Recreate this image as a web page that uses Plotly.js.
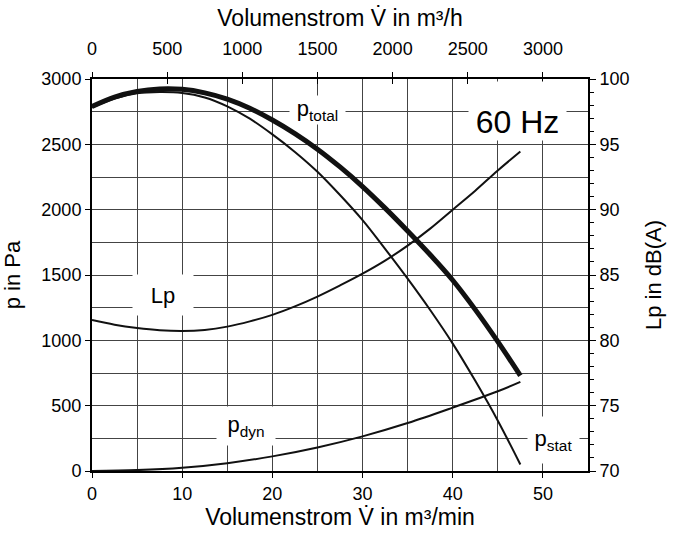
<!DOCTYPE html>
<html>
<head>
<meta charset="utf-8">
<script src="https://cdn.plot.ly/plotly-3.0.1.min.js"></script>
<style>html,body{margin:0;padding:0;background:#fff;}#chart{width:678px;height:540px;}</style>
</head>
<body>
<div id="chart"></div>
<script>
// Volume flow in m³/min
const flowQ = [0, 2.5, 5, 7.5, 10, 12.5, 15, 17.5, 20, 22.5, 25, 27.5, 30, 32.5, 35, 37.5, 40, 42.5, 45, 47.5];
// Total pressure (Pa)
const pTotal = [2790, 2862, 2905, 2924, 2921, 2894, 2846, 2776, 2686, 2582, 2463, 2327, 2177, 2012, 1837, 1655, 1460, 1235, 990, 730];
// Static pressure (Pa)
const pStat = [2782, 2850, 2890, 2900, 2893, 2859, 2791, 2696, 2576, 2442, 2290, 2112, 1920, 1700, 1472, 1232, 975, 690, 385, 50];
// Dynamic pressure (Pa)
const flowQdyn = [0, 5, 10, 15, 20, 25, 30, 35, 40, 45, 47.5];
const pDyn = [0, 7, 25, 60, 112, 180, 265, 367, 485, 610, 682];
// Sound pressure level dB(A)
const Lp = [81.55, 81.2, 80.95, 80.78, 80.72, 80.8, 81.05, 81.45, 81.95, 82.6, 83.35, 84.2, 85.1, 86.1, 87.25, 88.55, 90.0, 91.45, 93.0, 94.45];
// Top axis unit factor (m³/min -> m³/h)
const perHour = 60;

const FONT = 'Liberation Sans, Arial, sans-serif';
const GRID = '#444';
const flowH = flowQ.map(q => q * perHour);

const traces = [
  {x: flowQ, y: pTotal, mode: 'lines', line: {color: '#111', width: 5, shape: 'spline'}, xaxis: 'x', yaxis: 'y', hoverinfo: 'skip'},
  {x: flowQ, y: pStat, mode: 'lines', line: {color: '#111', width: 2, shape: 'spline'}, xaxis: 'x', yaxis: 'y', hoverinfo: 'skip'},
  {x: flowQdyn, y: pDyn, mode: 'lines', line: {color: '#111', width: 2, shape: 'spline'}, xaxis: 'x', yaxis: 'y', hoverinfo: 'skip'},
  {x: flowQ, y: Lp, mode: 'lines', line: {color: '#111', width: 2, shape: 'spline'}, xaxis: 'x', yaxis: 'y2', hoverinfo: 'skip'},
  // invisible carriers for the top (m³/h) axes
  {x: flowH, y: pTotal, mode: 'lines', line: {color: 'rgba(0,0,0,0)', width: 0}, xaxis: 'x2', yaxis: 'y', hoverinfo: 'skip'},
  {x: flowH, y: pTotal, mode: 'lines', line: {color: 'rgba(0,0,0,0)', width: 0}, xaxis: 'x3', yaxis: 'y', hoverinfo: 'skip'}
];

function label(text, x, y, w, h, size, valign) {
  return {text: text, x: x, y: y, xref: 'x', yref: 'y', showarrow: false,
    bgcolor: '#fff', width: w, height: h, borderpad: 0, valign: valign || 'middle',
    font: {family: FONT, size: size, color: '#000'}};
}

const layout = {
  width: 678, height: 540,
  margin: {l: 92, r: 90, t: 79, b: 69},
  paper_bgcolor: '#fff', plot_bgcolor: '#fff',
  showlegend: false,
  font: {family: FONT, size: 18, color: '#000'},
  xaxis: {
    range: [0, 55], dtick: 10, tick0: 0, ticks: 'outside', ticklen: 5, tickcolor: '#000', tickwidth: 1,
    showline: true, linewidth: 2, linecolor: '#000', zeroline: false,
    showgrid: true, gridcolor: GRID, gridwidth: 1,
    minor: {dtick: 5, showgrid: true, gridcolor: GRID, gridwidth: 1},
    tickfont: {size: 18},
    title: {text: 'Volumenstrom V̇ in m³/min', font: {size: 23}, standoff: 4}
  },
  xaxis2: {
    overlaying: 'x', anchor: 'y', side: 'top', range: [0, 3300], dtick: 500, tick0: 0,
    ticks: 'outside', ticklen: 5, tickcolor: '#000', ticklabelstandoff: 10,
    showline: true, linewidth: 2, linecolor: '#000', zeroline: false, showgrid: false,
    tickfont: {size: 18},
    title: {text: 'Volumenstrom V̇ in m³/h', font: {size: 23}, standoff: 6}
  },
  xaxis3: {
    overlaying: 'x', anchor: 'y', side: 'top', range: [0, 3300], dtick: 500, tick0: 0,
    ticks: 'inside', ticklen: 5, tickcolor: '#000', showticklabels: false,
    showline: false, zeroline: false, showgrid: false
  },
  yaxis: {
    range: [0, 3000], dtick: 500, tick0: 0, ticks: 'outside', ticklen: 5, tickcolor: '#000',
    showline: true, linewidth: 2, linecolor: '#000', zeroline: false,
    showgrid: true, gridcolor: GRID, gridwidth: 1,
    minor: {dtick: 250, showgrid: true, gridcolor: GRID, gridwidth: 1},
    tickfont: {size: 18},
    title: {text: 'p in Pa', font: {size: 22}, standoff: 18}
  },
  yaxis2: {
    overlaying: 'y', anchor: 'x', side: 'right', range: [70, 100], dtick: 5, tick0: 70,
    ticks: 'outside', ticklen: 6, tickcolor: '#000',
    minor: {dtick: 1, ticks: 'outside', ticklen: 4, tickcolor: '#000', showgrid: false},
    showline: true, linewidth: 2, linecolor: '#000', zeroline: false, showgrid: false,
    tickfont: {size: 18},
    title: {text: 'Lp in dB(A)', font: {size: 22}, standoff: 17}
  },
  annotations: [
    label('p<sub>total</sub>', 25.0, 2763, 55, 28, 22),
    label('60 Hz', 47.17, 2755, 97, 58, 32, 'bottom'),
    label('Lp', 7.9, 1347, 60, 40, 22),
    label('p<sub>dyn</sub>', 17.1, 344, 58, 38, 22),
    label('p<sub>stat</sub>', 51.2, 237, 51, 46, 22)
  ]
};

Plotly.newPlot('chart', traces, layout, {staticPlot: true, displayModeBar: false});
</script>
</body>
</html>
